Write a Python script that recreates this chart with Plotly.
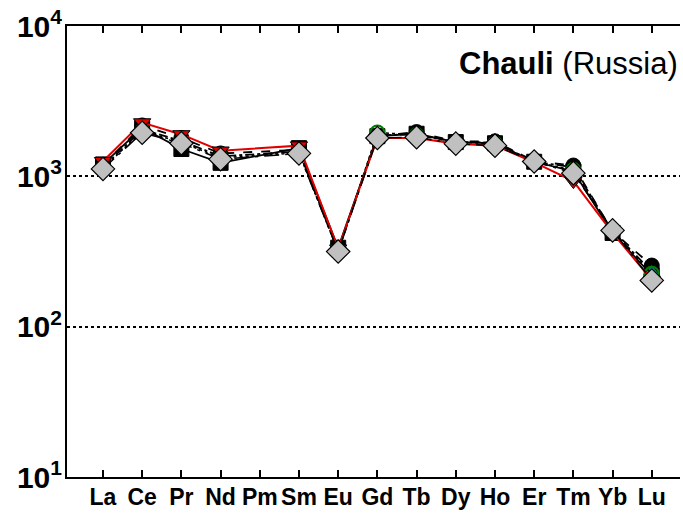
import plotly.graph_objects as go

# Chondrite-normalised REE patterns, Chauli (Russia)
elements = ["La", "Ce", "Pr", "Nd", "Pm", "Sm", "Eu", "Gd", "Tb", "Dy", "Ho", "Er", "Tm", "Yb", "Lu"]

sample_a = [1200, 2100, 1520, 1230, None, 1540, 335, 1850, 1920, 1690, 1660, 1250, 1080, 420, 220]
sample_b = [1260, 2280, 1900, 1480, None, 1600, 330, 1800, 1800, 1650, 1600, 1240, 930, 420, 205]
sample_c = [1180, 2180, 1800, 1420, None, 1500, 322, 1850, 1970, 1710, 1710, 1260, 1180, 430, 255]
sample_d = [1150, 2050, 1720, 1360, None, 1460, 318, 1880, 1900, 1690, 1680, 1250, 1150, 430, 233]
sample_e = [1130, 2000, 1680, 1330, None, 1430, 315, 1960, 1880, 1680, 1650, 1250, 1100, 430, 225]
sample_f = [1120, 1950, 1660, 1300, None, 1420, 316, 1800, 1820, 1650, 1600, 1255, 1050, 437, 203]

y_tickvals = [10, 100, 1000, 10000]
y_ticktext = ["10<sup>1</sup>", "10<sup>2</sup>", "10<sup>3</sup>", "10<sup>4</sup>"]

series = [
    (sample_a, dict(color="black", width=1.8, dash="solid"),
     dict(symbol="square", size=15, color="black", line=dict(color="black", width=1))),
    (sample_c, dict(color="black", width=1.8, dash="dash"),
     dict(symbol="circle", size=15, color="black", line=dict(color="black", width=1))),
    (sample_d, dict(color="black", width=1.8, dash="dashdot"),
     dict(symbol="triangle-up", size=14, color="#008080", line=dict(color="black", width=1))),
    (sample_e, dict(color="black", width=1.5, dash="dot"),
     dict(symbol="circle-open", size=14, color="#008000", line=dict(color="#008000", width=2))),
    (sample_b, dict(color="#e00000", width=2, dash="solid"),
     dict(symbol="triangle-down", size=15, color="#e00000", line=dict(color="black", width=1))),
    (sample_f, dict(color="black", width=1.5, dash="longdashdot"),
     dict(symbol="diamond", size=18, color="#c0c0c0", line=dict(color="black", width=1.2))),
]

fig = go.Figure()
for values, line, marker in series:
    fig.add_trace(go.Scatter(
        x=elements, y=values, mode="lines+markers",
        line=line, marker=marker, connectgaps=True, showlegend=False,
    ))

fig.add_annotation(
    text="<b>Chauli</b> (Russia)", xref="paper", yref="paper",
    x=1.0, y=0.917, xanchor="right", yanchor="middle", showarrow=False,
    font=dict(family="Liberation Sans, Arial", size=31, color="black"),
)

fig.update_layout(
    width=683, height=514,
    margin=dict(l=67, r=3, t=26, b=37),
    paper_bgcolor="white", plot_bgcolor="white",
    font=dict(family="Liberation Sans, Arial", color="black"),
    xaxis=dict(
        type="category", categoryorder="array", categoryarray=elements,
        range=[-0.918, 14.72], automargin=False, tickangle=0,
        showline=True, linecolor="black", linewidth=2, mirror="ticks",
        ticks="inside", ticklen=7, tickwidth=1.5, tickcolor="black",
        showgrid=False, zeroline=False,
        tickfont=dict(size=23, weight="bold", color="black"),
        ticklabelstandoff=-2,
    ),
    yaxis=dict(
        type="log", range=[1, 4], automargin=False,
        tickvals=y_tickvals, ticktext=y_ticktext,
        showline=True, linecolor="black", linewidth=2,
        ticks="", showgrid=True, gridcolor="black", gridwidth=1.5, griddash="dot",
        zeroline=False,
        tickfont=dict(size=30, weight="bold", color="black"),
        ticklabelstandoff=-3,
    ),
)

fig.write_html("out.html")
